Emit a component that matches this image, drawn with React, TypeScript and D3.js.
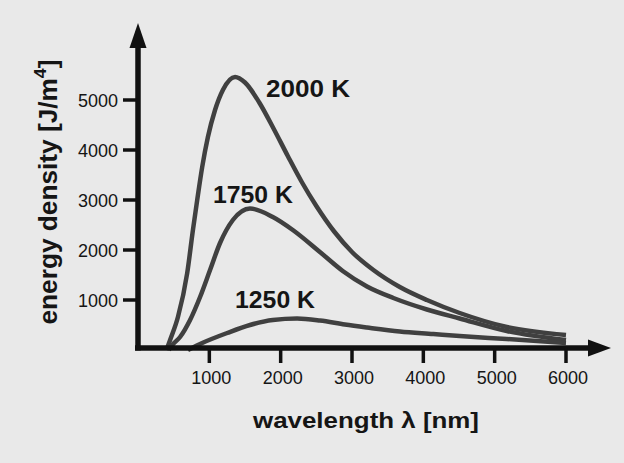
import React from "react";
import * as d3 from "d3";

// tick values
const xTicks = [1000, 2000, 3000, 4000, 5000, 6000];
const yTicks = [1000, 2000, 3000, 4000, 5000];

// curves: wavelength [nm] / energy density
const wl2000 = [400, 450, 560, 690, 770, 830, 900, 980, 1080, 1190, 1360, 1500, 1700, 1900, 2100, 2300, 2500, 2750, 3000, 3300, 3670, 4050, 4510, 5170, 6000];
const e2000 = [0, 200, 660, 1540, 2400, 3000, 3660, 4260, 4800, 5200, 5460, 5350, 4950, 4430, 3880, 3350, 2880, 2370, 1960, 1600, 1260, 1000, 740, 460, 300];

const wl1750 = [430, 480, 590, 730, 870, 1010, 1150, 1330, 1570, 1890, 2170, 2550, 2870, 3210, 3580, 4050, 4510, 5170, 6000];
const e1750 = [0, 100, 260, 600, 1060, 1600, 2140, 2600, 2830, 2660, 2400, 1960, 1580, 1270, 1040, 810, 630, 380, 200];

const wl1250 = [700, 900, 1250, 1570, 1890, 2230, 2550, 2900, 3210, 3670, 4140, 4510, 5170, 6000];
const e1250 = [0, 140, 340, 500, 600, 630, 590, 510, 450, 370, 320, 280, 220, 140];

const seriesLabels = ["2000 K", "1750 K", "1250 K"];

const W = 624;
const H = 463;
const font = "'Liberation Sans', Arial, Helvetica, sans-serif";

export default function App() {
  const x = d3.scaleLinear().domain([0, 6000]).range([138, 566]);
  const y = d3.scaleLinear().domain([0, 5000]).range([350, 100]);

  const line = d3
    .line<[number, number]>()
    .x((d) => x(d[0]))
    .y((d) => y(d[1]))
    .curve(d3.curveMonotoneX);

  const series = [
    { wl: wl2000, e: e2000 },
    { wl: wl1750, e: e1750 },
    { wl: wl1250, e: e1250 },
  ];

  // label anchors in data units (start of text, baseline)
  const labelPos = [
    { at: [1795, 5060], len: 84 },
    { at: [1050, 2940], len: 80 },
    { at: [1360, 840], len: 80 },
  ];

  const axisY = y(0) - 2;
  const axisX = x(0);

  return (
    <svg
      width={W}
      height={H}
      style={{ position: "absolute", left: 0, top: 0, fontFamily: font }}
    >
      <rect width={W} height={H} fill="#e9e9e9" />

      {/* curves */}
      {series.map((s, i) => (
        <path
          key={i}
          d={line(s.wl.map((w, j) => [w, s.e[j]]) as [number, number][]) || ""}
          fill="none"
          stroke="#404040"
          strokeWidth={4.5}
          strokeLinejoin="round"
        />
      ))}

      {/* axes */}
      <line x1={axisX - 3} x2={592} y1={axisY} y2={axisY} stroke="#111" strokeWidth={5.5} />
      <polygon
        points={`588,${axisY - 8.5} 611,${axisY} 588,${axisY + 8.5}`}
        fill="#111"
      />
      <line x1={axisX} x2={axisX} y1={axisY + 2.5} y2={45} stroke="#111" strokeWidth={5.5} />
      <polygon
        points={`${axisX - 8.5},48 ${axisX},23 ${axisX + 8.5},48`}
        fill="#111"
      />

      {/* y ticks */}
      {yTicks.map((t) => (
        <g key={t}>
          <line x1={123} x2={axisX} y1={y(t)} y2={y(t)} stroke="#111" strokeWidth={3.5} />
          <text x={118} y={y(t) + 6.5} textAnchor="end" fontSize={18} fill="#151515">
            {t}
          </text>
        </g>
      ))}

      {/* x ticks */}
      {xTicks.map((t) => (
        <g key={t}>
          <line x1={x(t)} x2={x(t)} y1={axisY} y2={363} stroke="#111" strokeWidth={3.5} />
          <text x={x(t) + 2} y={384} textAnchor="middle" fontSize={18} fill="#151515">
            {t}
          </text>
        </g>
      ))}

      {/* curve labels */}
      {seriesLabels.map((l, i) => (
        <text
          key={l}
          x={x(labelPos[i].at[0])}
          y={y(labelPos[i].at[1])}
          fontSize={23}
          fontWeight="bold"
          fill="#151515"
          textLength={labelPos[i].len}
          lengthAdjust="spacingAndGlyphs"
        >
          {l}
        </text>
      ))}

      {/* axis titles */}
      <text
        x={253}
        y={428}
        fontSize={22}
        fontWeight="bold"
        fill="#151515"
        textLength={226}
        lengthAdjust="spacingAndGlyphs"
      >
        wavelength λ [nm]
      </text>
      <text
        transform="translate(57,192) rotate(-90)"
        textAnchor="middle"
        fontSize={25}
        fontWeight="bold"
        fill="#151515"
        textLength={265}
        lengthAdjust="spacingAndGlyphs"
      >
        energy density [J/m
        <tspan dy={-11} fontSize={17}>
          4
        </tspan>
        <tspan dy={11}>]</tspan>
      </text>
    </svg>
  );
}
